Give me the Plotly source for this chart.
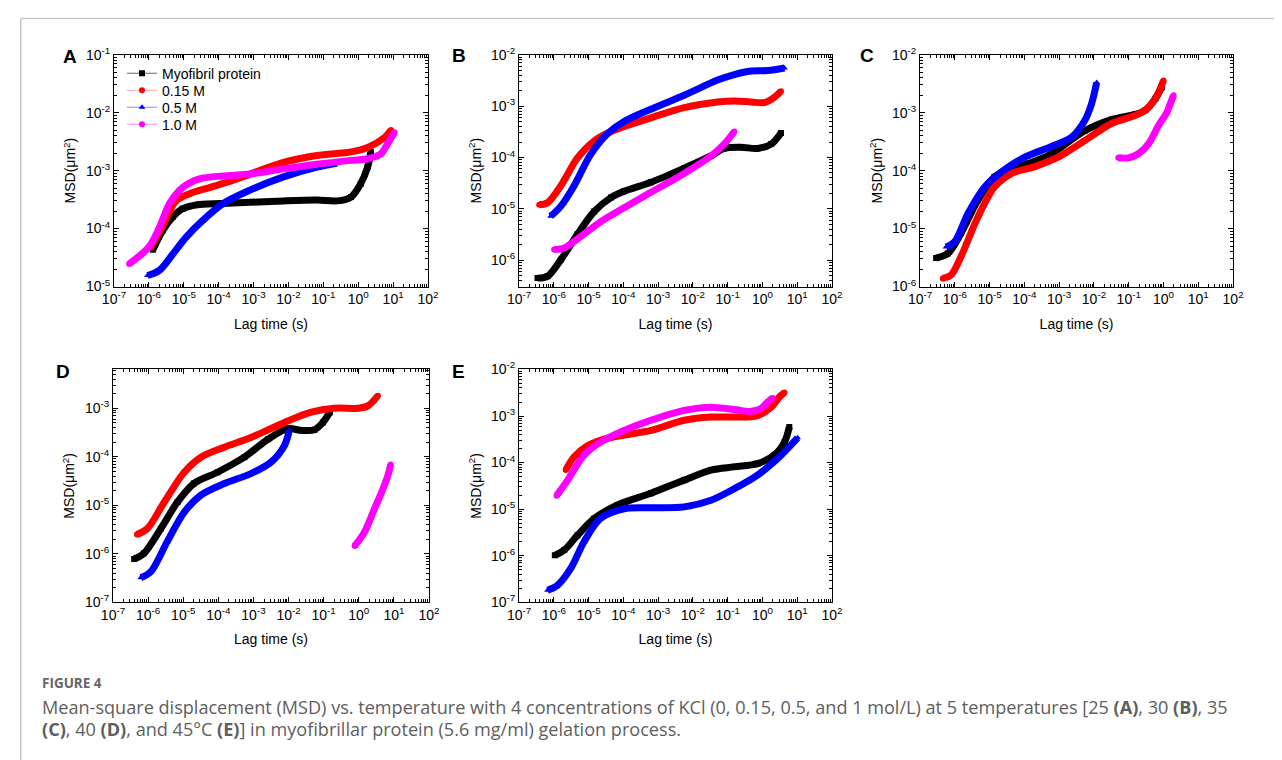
import plotly.graph_objects as go

# ---------------- data ----------------
# Panel A (25 C)
A_prot_x = [1.3e-6, 2.5e-6, 4.8e-6, 9.3e-6, 2.8e-5, 2.6e-4, 7.2e-3, 6.6e-2, 0.25, 0.62, 1.17, 1.86, 2.3]
A_prot_y = [4.3e-5, 9.3e-5, 1.58e-4, 2.2e-4, 2.6e-4, 2.75e-4, 3.0e-4, 3.1e-4, 3.0e-4, 3.5e-4, 5.9e-4, 1.15e-3, 2.1e-3]
A_015_x = [1.12e-6, 2.5e-6, 6.0e-6, 1.48e-5, 5.5e-5, 2.6e-4, 7.9e-4, 7.2e-3, 6.6e-2, 0.62, 1.86, 5.6, 8.7]
A_015_y = [4.7e-5, 1.12e-4, 3.0e-4, 4.0e-4, 5.1e-4, 6.8e-4, 8.7e-4, 1.38e-3, 1.82e-3, 2.1e-3, 2.5e-3, 3.7e-3, 5.0e-3]
A_05_x = [9.1e-7, 2.0e-6, 4.8e-6, 1.17e-5, 3.5e-5, 1.35e-4, 7.9e-4, 7.2e-3, 6.6e-2, 0.25]
A_05_y = [1.55e-5, 1.9e-5, 3.6e-5, 7.1e-5, 1.38e-4, 2.7e-4, 4.6e-4, 7.8e-4, 1.15e-3, 1.35e-3]
A_10_x = [2.7e-7, 1.0e-6, 2.0e-6, 3.9e-6, 9.3e-6, 2.8e-5, 1.35e-4, 7.9e-4, 7.2e-3, 6.6e-2, 0.62, 1.86, 4.5, 6.9, 11]
A_10_y = [2.45e-5, 4.8e-5, 1.05e-4, 2.7e-4, 5.1e-4, 7.2e-4, 8.1e-4, 8.7e-4, 1.07e-3, 1.29e-3, 1.5e-3, 1.6e-3, 1.95e-3, 2.9e-3, 4.6e-3]

# Panel B (30 C)
B_prot_x = [3.4e-7, 6.6e-7, 1.58e-6, 4.8e-6, 1.45e-5, 4.4e-5, 1.05e-4, 6.2e-4, 5.6e-3, 3.3e-2, 7.9e-2, 0.24, 0.72, 1.78, 3.4]
B_prot_y = [4.5e-7, 4.9e-7, 1.02e-6, 3.2e-6, 8.9e-6, 1.66e-5, 2.2e-5, 3.3e-5, 6.2e-5, 1.07e-4, 1.5e-4, 1.58e-4, 1.5e-4, 1.82e-4, 3.0e-4]
B_015_x = [3.8e-7, 6.6e-7, 1.58e-6, 4.8e-6, 1.45e-5, 4.4e-5, 1.05e-4, 6.2e-4, 5.6e-3, 5.1e-2, 0.155, 0.47, 1.12, 2.2, 3.4]
B_015_y = [1.2e-5, 1.32e-5, 2.8e-5, 9.8e-5, 2.1e-4, 3.2e-4, 4.0e-4, 5.9e-4, 9.3e-4, 1.2e-3, 1.26e-3, 1.2e-3, 1.17e-3, 1.48e-3, 1.95e-3]
B_05_x = [8.1e-7, 1.58e-6, 3.8e-6, 1.15e-5, 3.5e-5, 1.05e-4, 6.2e-4, 5.6e-3, 5.1e-2, 0.155, 0.47, 1.41, 4.3]
B_05_y = [7.2e-6, 1.12e-5, 2.8e-5, 1.15e-4, 2.9e-4, 5.0e-4, 8.7e-4, 1.62e-3, 3.2e-3, 4.1e-3, 4.8e-3, 4.9e-3, 5.5e-3]
B_10_x = [1.02e-6, 2.0e-6, 4.8e-6, 2.2e-5, 1.05e-4, 6.2e-4, 5.6e-3, 3.3e-2, 7.9e-2, 0.155]
B_10_y = [1.62e-6, 1.74e-6, 2.6e-6, 5.6e-6, 1.05e-5, 2.1e-5, 4.9e-5, 1.07e-4, 1.82e-4, 3.2e-4]

# Panel C (35 C)
C_prot_x = [2.9e-7, 6.3e-7, 1.51e-6, 4.6e-6, 1.38e-5, 4.2e-5, 1.29e-4, 6.0e-4, 5.5e-3, 3.2e-2, 0.15, 0.30, 0.58, 0.89]
C_prot_y = [3.1e-6, 3.7e-6, 8.3e-6, 3.1e-5, 7.8e-5, 1.07e-4, 1.32e-4, 1.95e-4, 4.9e-4, 7.6e-4, 9.3e-4, 1.1e-3, 1.74e-3, 2.75e-3]
C_015_x = [4.5e-7, 7.8e-7, 1.51e-6, 4.6e-6, 1.38e-5, 4.2e-5, 2.0e-4, 9.3e-4, 5.5e-3, 3.2e-2, 0.15, 0.30, 0.58, 1.0]
C_015_y = [1.38e-6, 1.58e-6, 3.3e-6, 1.58e-5, 5.2e-5, 8.9e-5, 1.17e-4, 1.7e-4, 3.3e-4, 6.5e-4, 8.9e-4, 1.1e-3, 1.74e-3, 3.6e-3]
C_05_x = [5.6e-7, 9.8e-7, 2.4e-6, 7.2e-6, 2.2e-5, 1.02e-4, 6.0e-4, 2.3e-3, 5.5e-3, 8.5e-3, 1.2e-2]
C_05_y = [4.8e-6, 5.9e-6, 1.82e-5, 5.2e-5, 9.5e-5, 1.7e-4, 2.6e-4, 3.8e-4, 7.4e-4, 1.41e-3, 3.3e-3]
C_10_x = [5.0e-2, 9.8e-2, 0.19, 0.37, 0.72, 1.26, 1.55, 1.95]
C_10_y = [1.66e-4, 1.66e-4, 1.95e-4, 2.9e-4, 6.0e-4, 1.02e-3, 1.41e-3, 2.0e-3]

# Panel D (40 C)
D_prot_x = [4.0e-7, 7.6e-7, 2.3e-6, 6.9e-6, 2.0e-5, 9.5e-5, 5.5e-4, 2.6e-3, 9.5e-3, 2.3e-2, 5.5e-2, 9.5e-2, 0.15]
D_prot_y = [7.8e-7, 1.02e-6, 3.3e-6, 1.17e-5, 2.8e-5, 4.8e-5, 9.8e-5, 2.3e-4, 3.8e-4, 3.5e-4, 3.6e-4, 5.1e-4, 8.3e-4]
D_015_x = [4.8e-7, 9.5e-7, 2.9e-6, 1.07e-5, 3.2e-5, 1.48e-4, 8.5e-4, 7.6e-3, 4.4e-2, 0.20, 0.93, 1.82, 3.5]
D_015_y = [2.5e-6, 3.3e-6, 1.17e-5, 4.8e-5, 9.8e-5, 1.58e-4, 2.5e-4, 5.1e-4, 8.3e-4, 1.0e-3, 1.0e-3, 1.12e-3, 1.82e-3]
D_05_x = [6.2e-7, 1.2e-6, 3.5e-6, 1.07e-5, 3.2e-5, 1.48e-4, 8.5e-4, 3.2e-3, 7.6e-3, 1.05e-2]
D_05_y = [3.2e-7, 4.3e-7, 1.78e-6, 7.2e-6, 1.62e-5, 2.8e-5, 4.5e-5, 7.8e-5, 1.7e-4, 3.5e-4]
D_10_x = [0.76, 1.45, 2.8, 4.9, 6.8, 8.1]
D_10_y = [1.45e-6, 2.8e-6, 8.5e-6, 2.2e-5, 4.2e-5, 6.9e-5]

# Panel E (45 C)
E_prot_x = [1.07e-6, 2.0e-6, 4.8e-6, 1.45e-5, 6.8e-5, 6.2e-4, 5.6e-3, 3.3e-2, 0.155, 0.72, 2.2, 4.3, 5.9]
E_prot_y = [1.02e-6, 1.32e-6, 2.75e-6, 6.3e-6, 1.23e-5, 2.2e-5, 4.2e-5, 6.9e-5, 8.1e-5, 9.5e-5, 1.45e-4, 2.75e-4, 5.8e-4]
E_015_x = [2.2e-6, 3.8e-6, 9.3e-6, 2.8e-5, 1.05e-4, 6.2e-4, 5.6e-3, 3.3e-2, 0.155, 0.72, 1.78, 3.1, 4.3]
E_015_y = [6.9e-5, 1.32e-4, 2.3e-4, 3.2e-4, 3.9e-4, 4.9e-4, 8.1e-4, 9.5e-4, 9.5e-4, 1.02e-3, 1.55e-3, 2.6e-3, 3.2e-3]
E_05_x = [6.6e-7, 1.26e-6, 3.1e-6, 7.4e-6, 2.2e-5, 1.05e-4, 6.2e-4, 5.6e-3, 3.3e-2, 0.155, 0.72, 2.75, 10.2]
E_05_y = [1.82e-7, 2.3e-7, 5.4e-7, 2.0e-6, 6.3e-6, 1.02e-5, 1.07e-5, 1.12e-5, 1.55e-5, 2.75e-5, 5.4e-5, 1.23e-4, 3.4e-4]
E_10_x = [1.2e-6, 2.5e-6, 7.4e-6, 2.2e-5, 1.05e-4, 6.2e-4, 5.6e-3, 3.3e-2, 0.155, 0.47, 0.91, 1.41, 1.95]
E_10_y = [1.95e-5, 4.2e-5, 1.45e-4, 2.75e-4, 4.9e-4, 8.1e-4, 1.32e-3, 1.55e-3, 1.38e-3, 1.26e-3, 1.45e-3, 2.0e-3, 2.45e-3]

series_names = ["Myofibril protein", "0.15 M", "0.5 M", "1.0 M"]
series_colors = ["#000000", "#ff0000", "#0000ff", "#ff00ff"]
legend_line_colors = ["rgba(0,0,0,0.6)", "rgba(255,0,0,0.35)", "rgba(0,0,255,0.45)", "rgba(255,0,255,0.45)"]
series_symbols = ["square", "circle", "triangle-up", "circle"]

x_tick_vals = [1e-7, 1e-6, 1e-5, 1e-4, 1e-3, 1e-2, 1e-1, 1e0, 1e1, 1e2]
x_tick_text = ["10<sup>-7</sup>", "10<sup>-6</sup>", "10<sup>-5</sup>", "10<sup>-4</sup>", "10<sup>-3</sup>",
               "10<sup>-2</sup>", "10<sup>-1</sup>", "10<sup>0</sup>", "10<sup>1</sup>", "10<sup>2</sup>"]

panels = [
    ("A", [(A_prot_x, A_prot_y), (A_015_x, A_015_y), (A_05_x, A_05_y), (A_10_x, A_10_y)], [-5, -1], [-5, -4, -3, -2, -1]),
    ("B", [(B_prot_x, B_prot_y), (B_015_x, B_015_y), (B_05_x, B_05_y), (B_10_x, B_10_y)], [-6.51, -2], [-6, -5, -4, -3, -2]),
    ("C", [(C_prot_x, C_prot_y), (C_015_x, C_015_y), (C_05_x, C_05_y), (C_10_x, C_10_y)], [-6, -2], [-6, -5, -4, -3, -2]),
    ("D", [(D_prot_x, D_prot_y), (D_015_x, D_015_y), (D_05_x, D_05_y), (D_10_x, D_10_y)], [-7, -2.2], [-7, -6, -5, -4, -3]),
    ("E", [(E_prot_x, E_prot_y), (E_015_x, E_015_y), (E_05_x, E_05_y), (E_10_x, E_10_y)], [-7, -2], [-7, -6, -5, -4, -3, -2]),
]

# ---------------- layout geometry ----------------
# The page shows the figure with an offset and a slight shrink; positions below are the
# wanted window pixels and are mapped back into figure pixels.
FW, FH = 1282, 760
SX, BX = 0.982, 19.0
SY, BY = 0.977, 17.3


def px(x):
    return ((x - BX) / SX) / FW


def py(y):
    return 1 - ((y - BY) / SY) / FH


boxes = [  # left, right, top, bottom (window px)
    (113, 427, 54, 286),
    (518, 831, 54, 286),
    (919, 1232, 54, 286),
    (112, 428, 369, 602),
    (518, 831, 369, 602),
]
letter_pos = [(69, 56), (458, 55), (866, 55), (62, 371), (457, 371)]

FONT = "Liberation Sans, Arial, sans-serif"


def minor_vals(lo, hi):
    vals = []
    for e in range(lo, hi):
        for k in range(2, 10):
            vals.append(k * 10.0 ** e)
    return vals


fig = go.Figure()
layout = {}
annotations = []

for i, (letter, data, yr, yexp) in enumerate(panels):
    n = "" if i == 0 else str(i + 1)
    xa, ya = "x" + n, "y" + n
    l, r, t, b = boxes[i]
    for j, (xs, ys) in enumerate(data):
        fig.add_trace(go.Scatter(
            x=xs, y=ys, xaxis=xa, yaxis=ya, mode="lines+markers",
            line=dict(color=series_colors[j], width=7, shape="spline", smoothing=0.9),
            marker=dict(symbol=series_symbols[j], size=6, color=series_colors[j]),
            showlegend=False, hoverinfo="skip"))
    layout["xaxis" + n] = dict(
        domain=[px(l), px(r)], anchor=ya, type="log", range=[-7, 2],
        tickmode="array", tickvals=x_tick_vals, ticktext=x_tick_text,
        ticks="inside", ticklen=5, tickwidth=1, tickcolor="black",
        showline=True, linecolor="black", linewidth=1, mirror="ticks",
        showgrid=False, zeroline=False,
        minor=dict(tickmode="array", tickvals=minor_vals(-7, 2), ticks="inside",
                   ticklen=3, tickwidth=1, tickcolor="black", showgrid=False),
        tickfont=dict(family=FONT, size=14, color="black"),
        title=dict(text="Lag time (s)", font=dict(family=FONT, size=14, color="black"), standoff=12),
    )
    layout["yaxis" + n] = dict(
        domain=[py(b), py(t)], anchor=xa, type="log", range=yr,
        tickmode="array", tickvals=[10.0 ** e for e in yexp],
        ticktext=["10<sup>%d</sup>" % e for e in yexp],
        ticks="inside", ticklen=5, tickwidth=1, tickcolor="black",
        showline=True, linecolor="black", linewidth=1, mirror="ticks",
        showgrid=False, zeroline=False,
        minor=dict(tickmode="array", tickvals=minor_vals(int(yr[0]) - 1, int(yr[1]) + 1), ticks="inside",
                   ticklen=3, tickwidth=1, tickcolor="black", showgrid=False),
        tickfont=dict(family=FONT, size=14, color="black"),
        title=dict(text="MSD(μm<sup>2</sup>)", font=dict(family=FONT, size=14, color="black"), standoff=6),
    )
    lx, ly = letter_pos[i]
    annotations.append(dict(text="<b>%s</b>" % letter, x=px(lx), y=py(ly), xref="paper", yref="paper",
                            showarrow=False, xanchor="center", yanchor="middle",
                            font=dict(family=FONT, size=19, color="black")))

# legend-only traces (panel A), one legend box per row
legend_rows = [73, 90, 107, 124]
legend_layout = {}
for j in range(4):
    key = "legend" if j == 0 else "legend%d" % (j + 1)
    fig.add_trace(go.Scatter(
        x=[None], y=[None], xaxis="x", yaxis="y", mode="lines+markers", name=series_names[j],
        line=dict(color=legend_line_colors[j], width=1.2),
        marker=dict(symbol=series_symbols[j], size=6, color=series_colors[j]),
        showlegend=True, legend=key))
    legend_layout[key] = dict(x=px(121), y=py(legend_rows[j]), xanchor="left", yanchor="middle",
                              bgcolor="rgba(0,0,0,0)", borderwidth=0,
                              font=dict(family=FONT, size=14, color="black"))

CAP_FONT = "Open Sans, Lato, sans-serif"
annotations.append(dict(text="<b>FIGURE 4</b>", x=px(39), y=py(683), xref="paper", yref="paper",
                        showarrow=False, xanchor="left", yanchor="middle",
                        font=dict(family=CAP_FONT, size=13.5, color="#666666")))
cap1 = ("Mean-square displacement (MSD) vs. temperature with 4 concentrations of KCl (0, 0.15, 0.5, and 1 mol/L) "
        "at 5 temperatures [25 <b>(A)</b>, 30 <b>(B)</b>, 35")
cap2 = "<b>(C)</b>, 40 <b>(D)</b>, and 45°C <b>(E)</b>] in myofibrillar protein (5.6 mg/ml) gelation process."
annotations.append(dict(text=cap1, x=px(39), y=py(707), xref="paper", yref="paper",
                        showarrow=False, xanchor="left", yanchor="middle",
                        font=dict(family=CAP_FONT, size=18.1, color="#5e5e5e")))
annotations.append(dict(text=cap2, x=px(39), y=py(729), xref="paper", yref="paper",
                        showarrow=False, xanchor="left", yanchor="middle",
                        font=dict(family=CAP_FONT, size=18.1, color="#5e5e5e")))

# card frame (as close to the top-left as the figure allows)
fx, fy = max(px(10), 0.0006), min(py(12), 0.9992)
shapes = [
    dict(type="line", xref="paper", yref="paper", x0=fx, x1=1.0, y0=fy, y1=fy,
         line=dict(color="#c8c8c8", width=1.5)),
    dict(type="line", xref="paper", yref="paper", x0=fx, x1=fx, y0=0, y1=fy,
         line=dict(color="#c8c8c8", width=1.5)),
]

fig.update_layout(
    width=FW, height=FH, margin=dict(l=0, r=0, t=0, b=0),
    paper_bgcolor="white", plot_bgcolor="white",
    showlegend=True,
    annotations=annotations, shapes=shapes,
    **legend_layout,
    **layout,
)

fig.write_html("out.html")
